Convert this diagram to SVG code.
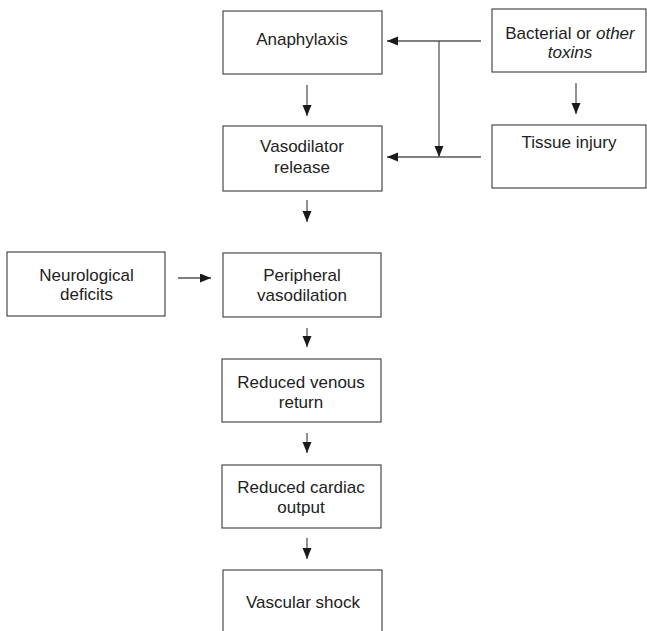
<svg xmlns="http://www.w3.org/2000/svg" width="647" height="631" viewBox="0 0 647 631">
<defs>
<style>
.box{fill:#fff;stroke:#3a3a3a;stroke-width:1.1}
.t{font-family:"Liberation Sans",Arial,sans-serif;font-size:17px;fill:#222;text-anchor:middle}
.c{fill:none;stroke:#555;stroke-width:1.3}
</style>
<marker id="ah" markerUnits="userSpaceOnUse" markerWidth="12" markerHeight="10" refX="11" refY="4.5" orient="auto">
<path d="M0,0 L11,4.5 L0,9 Z" fill="#1a1a1a"/>
</marker>
</defs>
<rect width="647" height="631" fill="#fff"/>
<g id="connectors">
<line class="c" x1="307" y1="85" x2="307" y2="116" marker-end="url(#ah)"/>
<line class="c" x1="307" y1="200" x2="307" y2="222" marker-end="url(#ah)"/>
<line class="c" x1="307" y1="328" x2="307" y2="347" marker-end="url(#ah)"/>
<line class="c" x1="307" y1="433" x2="307" y2="453" marker-end="url(#ah)"/>
<line class="c" x1="307" y1="538" x2="307" y2="559" marker-end="url(#ah)"/>
<line class="c" x1="576" y1="83" x2="576" y2="114" marker-end="url(#ah)"/>
<line class="c" x1="178" y1="278" x2="211" y2="278" marker-end="url(#ah)"/>
<line class="c" x1="481" y1="41" x2="387" y2="41" marker-end="url(#ah)"/>
<line class="c" x1="439" y1="41" x2="439" y2="157" marker-end="url(#ah)"/>
<line class="c" x1="481" y1="157" x2="387" y2="157" marker-end="url(#ah)"/>
</g>
<g id="anaphylaxis">
<rect class="box" x="223" y="11" width="159" height="63"/>
<text class="t" x="302" y="45">Anaphylaxis</text>
</g>
<g id="vasodilator-release">
<rect class="box" x="223" y="126" width="159" height="65"/>
<text class="t" x="302" y="152">Vasodilator</text>
<text class="t" x="302" y="173">release</text>
</g>
<g id="bacterial-toxins">
<rect class="box" x="492" y="9" width="154" height="63"/>
<text class="t" x="570" y="39">Bacterial or <tspan font-style="italic">other</tspan></text>
<text class="t" x="570" y="58" font-style="italic">toxins</text>
</g>
<g id="tissue-injury">
<rect class="box" x="492" y="125" width="154" height="63"/>
<text class="t" x="569" y="148">Tissue injury</text>
</g>
<g id="neurological-deficits">
<rect class="box" x="7" y="252" width="158" height="64"/>
<text class="t" x="86.5" y="281">Neurological</text>
<text class="t" x="86.5" y="300">deficits</text>
</g>
<g id="peripheral-vasodilation">
<rect class="box" x="223" y="253" width="158" height="64"/>
<text class="t" x="302" y="281">Peripheral</text>
<text class="t" x="302" y="301">vasodilation</text>
</g>
<g id="reduced-venous-return">
<rect class="box" x="222" y="359" width="159" height="63"/>
<text class="t" x="301" y="388">Reduced venous</text>
<text class="t" x="301" y="408">return</text>
</g>
<g id="reduced-cardiac-output">
<rect class="box" x="222" y="465" width="159" height="63"/>
<text class="t" x="301" y="493">Reduced cardiac</text>
<text class="t" x="301" y="513">output</text>
</g>
<g id="vascular-shock">
<rect class="box" x="223" y="570" width="159" height="70"/>
<text class="t" x="303" y="608">Vascular shock</text>
</g>
</svg>
